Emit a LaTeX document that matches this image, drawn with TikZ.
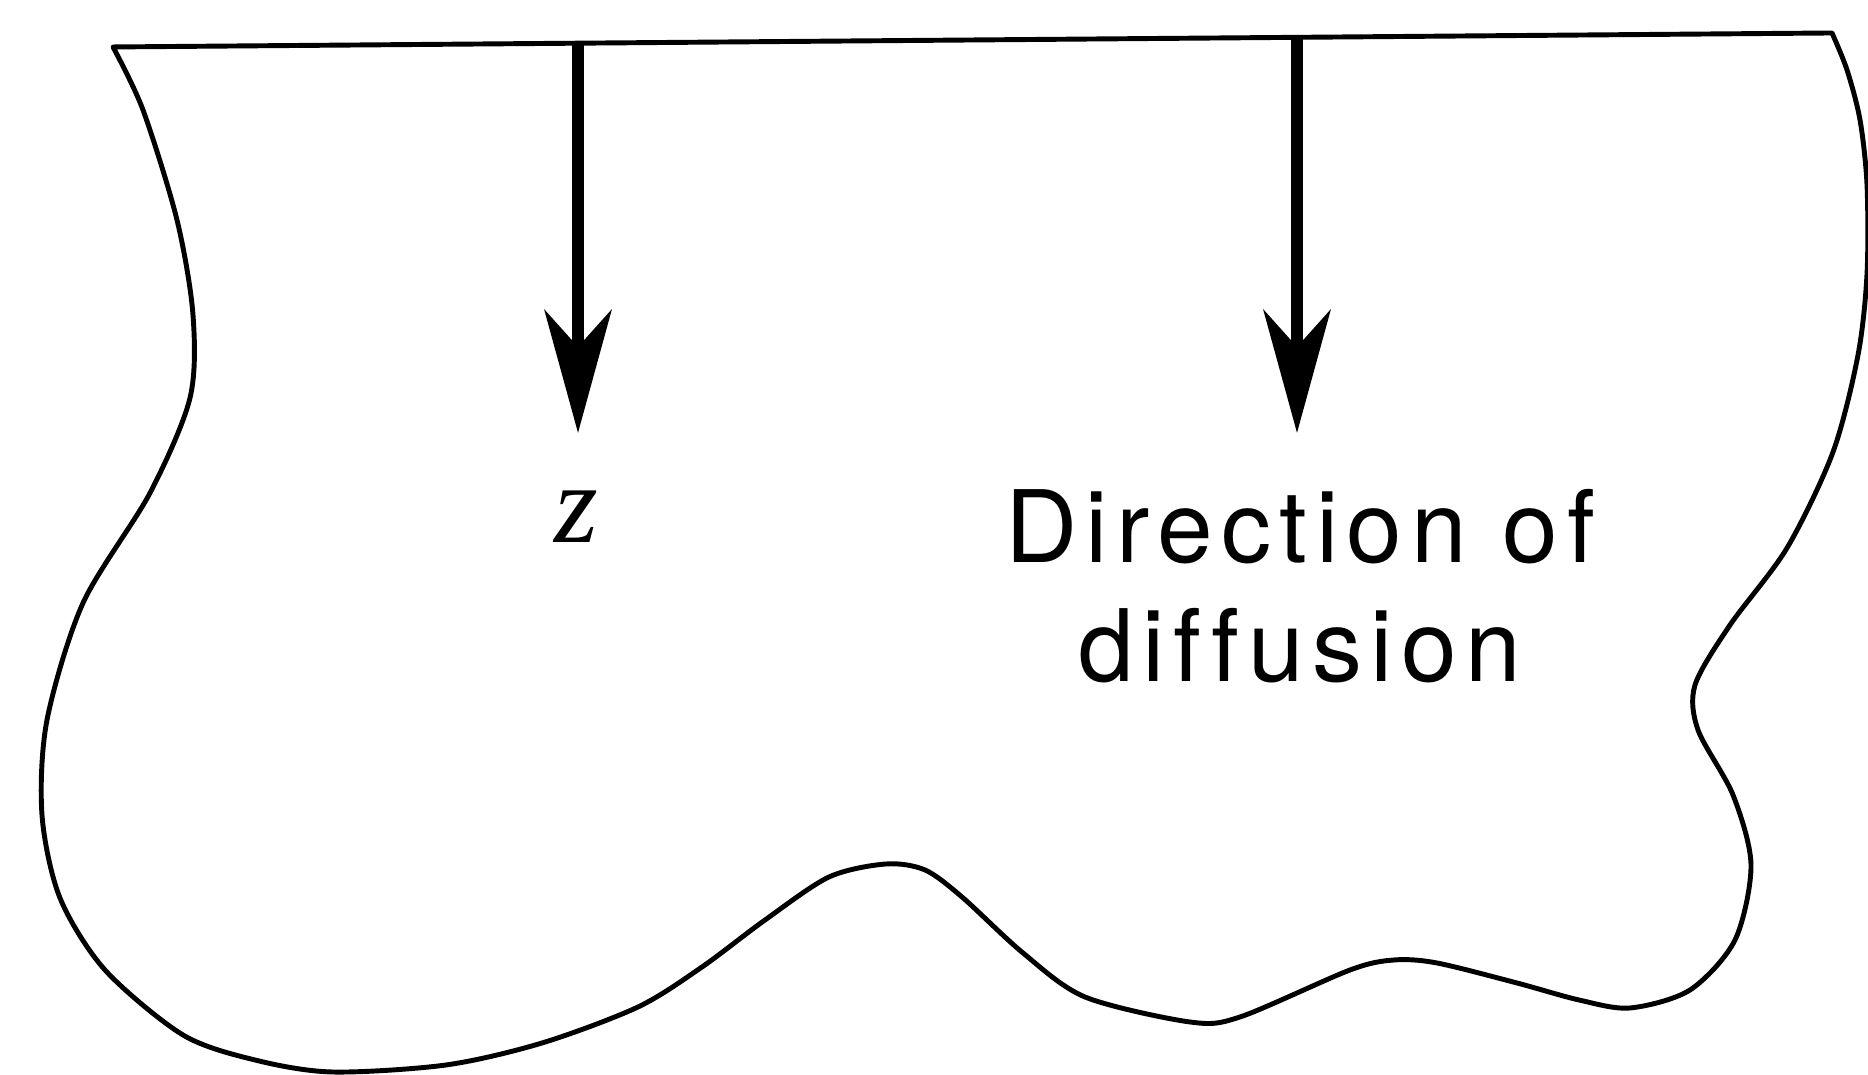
\documentclass[tikz,border=0pt]{standalone}
\usepackage{fontspec}
\newfontfamily\labelfont[LetterSpace=8.5,Ligatures=NoCommon]{TeX Gyre Heros}
\newfontfamily\varfont{Liberation Serif}
\usetikzlibrary{arrows.meta}

\begin{document}
\begin{tikzpicture}[x=1cm,y=1cm,>={Stealth[length=1.23cm,width=0.67cm,inset=0.37cm]},
  outline/.style={line width=1.4pt,line join=round},
  flux/.style={->,line width=3.4pt}]
  \useasboundingbox (0,0) rectangle (18.68,10.75);
  % medium, open towards the bottom
  \draw[outline] plot[smooth] coordinates {
    (18.32,10.42) (18.47,10.05) (18.60,9.55) (18.67,8.90) (18.67,8.01)
    (18.58,7.20) (18.33,6.23)
    (17.87,5.27) (17.30,4.50) (16.95,3.90) (16.98,3.45) (17.33,2.80)
    (17.51,2.10) (17.35,1.35) (16.90,0.85) (16.30,0.67) (15.79,0.75)
    (15.17,0.92) (14.37,1.12) (13.94,1.15) (13.50,1.05) (12.40,0.58)
    (11.90,0.53) (10.85,0.78) (10.23,1.22) (9.62,1.78) (9.25,2.05)
    (8.86,2.11) (8.29,1.98) (7.65,1.55) (7.02,1.08) (6.38,0.68)
    (5.42,0.32) (4.46,0.10) (3.32,0.03) (2.55,0.15) (1.83,0.40)
    (1.05,1.05) (0.60,1.77) (0.42,2.60) (0.47,3.55) (0.83,4.72)
    (1.50,5.82) (1.90,6.77) (1.93,7.60) (1.77,8.55) (1.43,9.65)
    (1.13,10.28)} -- cycle;
  \coordinate (z0) at (5.78,10.32);
  \coordinate (z1) at (5.78,6.42);
  \coordinate (d0) at (12.97,10.39);
  \coordinate (d1) at (12.97,6.42);
  \node[anchor=base] (zlab) at (5.76,5.32) {\fontsize{32pt}{32pt}\varfont\itshape z};
  \node[anchor=base,align=center,font=\labelfont\fontsize{28.45pt}{34pt}\selectfont]
    (dir) at (13.0,3.93) {Direction of\\diffusion};
  \draw[flux] (z0) -- (z1);
  \draw[flux] (d0) -- (d1);
\end{tikzpicture}
\end{document}
